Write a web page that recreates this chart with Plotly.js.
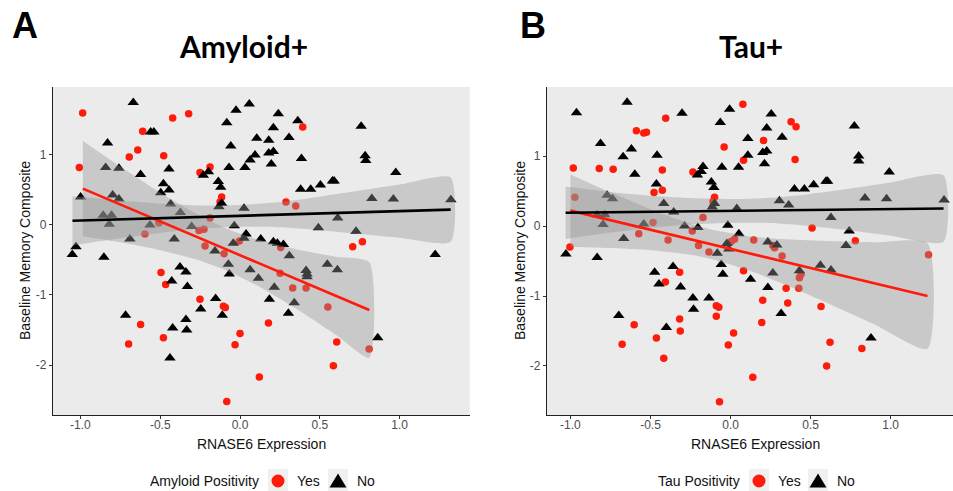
<!DOCTYPE html>
<html>
<head>
<meta charset="utf-8">
<script src="https://cdn.plot.ly/plotly-3.0.1.min.js"></script>
<style>html,body{margin:0;padding:0;background:#fff;}#chart{width:953px;height:491px;}</style>
</head>
<body>
<div id="chart"></div>
<script>
// ---------- Panel A: Amyloid+ ----------
const ampYesX = [-0.986,-1.007,-0.694,-0.641,-0.61,-0.478,-0.422,-0.322,-0.251,-0.188,-0.115,-0.125,-0.188,-0.508,-0.596,-0.257,-0.226,-0.219,-0.004,0.393,0.288,0.349,0.255,0.706,0.767,-0.1,-0.495,-0.466,-0.251,-0.104,-0.092,-0.623,-0.48,-0.698,0.0,-0.031,0.121,-0.083,0.178,0.251,0.33,0.414,0.55,0.606,0.585,0.809];
const ampYesY = [1.60,0.82,0.97,1.07,1.34,0.99,1.53,1.59,0.75,0.83,0.40,0.33,0.10,0.03,-0.13,-0.08,-0.06,-0.30,-0.23,1.40,0.33,0.27,-0.32,-0.31,-0.24,-0.41,-0.68,-0.85,-1.06,-1.16,-1.18,-1.42,-1.61,-1.70,-1.55,-1.71,-2.17,-2.52,-1.40,-0.69,-0.90,-0.90,-1.17,-1.67,-2.01,-1.77];
const ampNoX = [-0.669,-0.56,-0.54,-0.83,-0.842,-0.759,-0.623,-0.445,-0.48,-0.445,-0.497,-0.435,-0.374,-0.303,-0.412,-0.564,-0.69,-0.805,-0.857,-0.819,-0.798,-0.759,-0.999,-1.028,-0.23,-0.198,-0.136,-0.121,-0.115,-0.132,-0.069,0.031,-0.058,-0.083,-0.025,0.058,0.063,0.094,0.105,0.18,0.18,0.025,-0.036,-0.042,0.038,0.025,0.13,0.24,0.362,0.209,0.759,0.307,0.209,0.385,0.784,0.788,0.196,0.976,0.38,0.443,0.504,0.579,0.59,0.826,0.961,1.321,0.612,0.491,0.727,0.209,0.234,0.272,-1.051,-0.853,-0.376,-0.339,-0.428,-0.33,-0.153,-0.246,-0.111,-0.717,-0.339,-0.422,-0.334,-0.439,-0.157,-0.073,-0.067,0.063,0.115,0.184,0.309,0.215,0.303,0.34,0.414,0.42,0.42,0.547,0.61,0.863,1.223];
const ampNoY = [1.75,1.33,1.33,1.17,0.82,0.81,0.72,0.80,0.59,0.50,0.46,0.30,0.18,-0.02,-0.20,0.0,-0.20,0.14,0.14,0.01,0.43,0.37,0.40,-0.31,0.71,0.76,0.62,0.54,0.31,0.26,0.82,0.82,1.13,1.46,1.64,1.73,0.93,1.0,1.24,1.21,1.03,0.24,-0.01,-0.26,-0.13,-0.19,-0.20,1.59,1.49,1.39,1.41,1.25,1.05,0.95,0.99,0.92,0.87,0.75,0.51,0.51,0.57,0.63,0.63,0.38,0.37,0.36,0.10,-0.04,-0.09,-0.24,-0.26,-0.28,-0.42,-0.46,-0.60,-0.67,-0.80,-0.88,-1.05,-1.20,-1.29,-1.29,-1.35,-1.47,-1.50,-1.90,-0.37,-0.56,-0.70,-0.64,-0.76,-1.06,-0.44,-0.89,-1.26,-1.11,-0.65,-0.70,-0.74,-0.56,-0.64,-1.61,-0.42];
// fitted lines and 95% bands
const ampYesFitX = [-0.985,-0.75,-0.5,-0.25,-0.09,0.1,0.35,0.6,0.81];
const ampYesFit  = [0.52,0.293,0.051,-0.19,-0.345,-0.528,-0.77,-1.011,-1.214];
const ampYesUp   = [1.20,0.834,0.461,0.129,-0.045,-0.201,-0.346,-0.453,-0.531];
const ampYesLo   = [-0.16,-0.248,-0.359,-0.509,-0.645,-0.855,-1.194,-1.569,-1.897];
const ampNoFitX  = [-1.05,-0.75,-0.5,-0.25,0,0.25,0.5,0.75,1.0,1.32];
const ampNoFit   = [0.06,0.08,0.097,0.114,0.131,0.148,0.165,0.181,0.198,0.22];
const ampNoUp    = [0.41,0.35,0.307,0.279,0.286,0.328,0.405,0.491,0.578,0.68];
const ampNoLo    = [-0.29,-0.19,-0.113,-0.051,-0.024,-0.032,-0.075,-0.129,-0.182,-0.24];

// ---------- Panel B: Tau+ ----------
const tauYesX = [-0.982,-0.82,-0.733,-0.588,-0.542,-0.525,-0.405,-0.426,-0.426,-0.478,-0.235,-0.1,-0.04,0.077,0.081,-0.972,-1.003,-0.573,-0.484,-0.39,-0.239,-0.172,-0.2,-0.11,0.025,0.004,0.378,0.409,0.206,0.403,0.509,0.779,0.145,0.264,0.275,-0.135,-0.318,-0.407,-0.089,-0.073,-0.089,-0.318,-0.314,-0.602,-0.463,-0.677,-0.417,0.019,-0.014,-0.069,0.081,0.322,0.44,0.43,0.426,0.347,0.201,0.357,0.565,0.195,0.621,0.6,0.82,0.139,1.236];
const tauYesY = [0.83,0.82,0.81,1.36,1.33,1.34,1.54,0.80,0.51,0.48,0.77,0.41,1.13,1.74,0.94,0.41,-0.30,-0.11,0.05,-0.20,-0.07,0.12,-0.28,0.35,-0.19,-0.22,1.49,1.42,1.22,0.95,-0.03,-0.21,-0.20,-0.28,-0.31,-0.37,-0.66,-0.80,-1.14,-1.16,-1.29,-1.33,-1.50,-1.41,-1.60,-1.69,-1.89,-1.53,-1.70,-2.51,-0.64,-0.43,-0.69,-0.74,-0.89,-0.89,-1.06,-1.10,-1.15,-1.38,-1.66,-2.0,-1.75,-2.16,-0.41];
const tauNoX = [-0.962,-0.646,-0.303,-0.006,-0.064,-0.812,-0.619,-0.671,-0.459,-0.598,-0.463,-0.172,-0.183,-0.207,-0.054,0.05,0.108,0.108,-0.12,-0.104,-0.1,-0.114,-0.417,-0.355,-0.771,-0.737,-0.833,-0.785,-0.796,-0.542,-0.667,-0.287,-0.204,-0.017,0.039,-0.023,0.052,0.254,0.226,0.773,0.322,0.201,0.226,0.212,0.80,0.80,0.991,0.399,0.461,0.519,0.596,0.606,0.305,0.363,0.839,0.974,1.333,0.627,0.741,0.233,0.289,0.721,-1.028,-0.833,-0.474,-0.359,-0.447,-0.312,-0.235,-0.135,-0.231,-0.698,-0.401,-0.083,-0.058,-0.048,-0.011,0.125,0.264,0.233,0.316,0.43,0.561,0.627,0.877];
const tauNoY = [1.62,1.77,1.61,1.67,1.48,1.18,1.10,0.99,1.01,0.74,0.60,0.85,0.78,0.73,0.84,0.84,1.25,1.01,0.63,0.55,0.32,0.27,0.32,0.20,0.44,0.39,0.16,0.16,0.02,0.03,-0.18,0.0,-0.02,0.01,0.25,-0.25,-0.11,1.60,1.40,1.43,1.27,1.05,1.07,0.89,1.0,0.93,0.77,0.53,0.53,0.59,0.64,0.64,0.36,0.30,0.40,0.39,0.37,0.12,-0.07,-0.23,-0.27,-0.28,-0.40,-0.45,-0.66,-0.58,-0.83,-0.87,-1.03,-1.03,-1.19,-1.28,-1.45,-0.39,-0.55,-0.69,-0.33,-0.76,-0.67,-0.88,-1.25,-0.64,-0.56,-0.63,-1.60];
const tauYesFitX = [-1.0,-0.75,-0.5,-0.25,-0.12,0.1,0.35,0.6,0.9,1.23];
const tauYesFit  = [0.22,0.083,-0.054,-0.19,-0.261,-0.382,-0.518,-0.655,-0.819,-1.0];
const tauYesUp   = [0.737,0.481,0.239,0.031,-0.051,-0.141,-0.19,-0.215,-0.232,-0.245];
const tauYesLo   = [-0.297,-0.315,-0.347,-0.411,-0.471,-0.623,-0.846,-1.095,-1.406,-1.755];
const tauNoFitX  = [-1.03,-0.75,-0.5,-0.25,0,0.25,0.5,0.75,1.0,1.33];
const tauNoFit   = [0.19,0.197,0.203,0.21,0.216,0.223,0.229,0.235,0.242,0.25];
const tauNoUp    = [0.565,0.487,0.433,0.40,0.386,0.403,0.459,0.535,0.622,0.725];
const tauNoLo    = [-0.185,-0.093,-0.027,0.02,0.046,0.043,-0.001,-0.065,-0.138,-0.225];

const tickVals = [-1,-0.5,0,0.5,1];
const tickText = ['-1.0','-0.5','0.0','0.5','1.0'];
const yTickVals = [-2,-1,0,1];
const yTickText = ['-2','-1','0','1'];
const legendTitles = ['Amyloid Positivity','Tau Positivity'];
const legendLabels = ['Yes','No'];

const RED = '#FF1A0A';
const BAND = 'rgba(150,150,150,0.4)';

function pts(x, y, sym, color, xa, ya) {
  return {type:'scatter', mode:'markers', x:x, y:y, xaxis:xa, yaxis:ya, showlegend:false,
    marker:{symbol:sym, color:color, size: sym==='circle'?7.5:10, line:{width:0}}, hoverinfo:'skip'};
}
function band(fx, up, lo, xa, ya) {
  return {type:'scatter', mode:'lines', x: fx.concat(fx.slice().reverse()),
    y: up.concat(lo.slice().reverse()), xaxis:xa, yaxis:ya, fill:'toself', fillcolor:BAND,
    line:{width:0, shape:'spline', smoothing:0.6}, showlegend:false, hoverinfo:'skip'};
}
function fit(fx, fy, color, xa, ya) {
  return {type:'scatter', mode:'lines', x:fx, y:fy, xaxis:xa, yaxis:ya,
    line:{color:color, width:2.6}, showlegend:false, hoverinfo:'skip'};
}

const data = [
  pts(ampYesX, ampYesY, 'circle', RED, 'x', 'y'),
  pts(ampNoX, ampNoY, 'triangle-up', '#000', 'x', 'y'),
  band(ampYesFitX, ampYesUp, ampYesLo, 'x', 'y'),
  band(ampNoFitX, ampNoUp, ampNoLo, 'x', 'y'),
  fit(ampYesFitX, ampYesFit, RED, 'x', 'y'),
  fit(ampNoFitX, ampNoFit, '#000', 'x', 'y'),
  pts(tauYesX, tauYesY, 'circle', RED, 'x2', 'y2'),
  pts(tauNoX, tauNoY, 'triangle-up', '#000', 'x2', 'y2'),
  band(tauYesFitX, tauYesUp, tauYesLo, 'x2', 'y2'),
  band(tauNoFitX, tauNoUp, tauNoLo, 'x2', 'y2'),
  fit(tauYesFitX, tauYesFit, RED, 'x2', 'y2'),
  fit(tauNoFitX, tauNoFit, '#000', 'x2', 'y2')
];

const W = 953, H = 491;
const P = v => v / W, Q = v => 1 - v / H;
const AX_FONT = 'Liberation Sans, Arial, sans-serif';
const TITLE_FONT = 'Lato, Open Sans, sans-serif';
function xax(domain, range, anchor) {
  return {domain:domain, range:range, anchor:anchor, tickvals:tickVals, ticktext:tickText,
    showline:true, linecolor:'#222', linewidth:1.2, ticks:'outside', ticklen:3, tickcolor:'#333',
    ticklabelstandoff:-5,
    showgrid:false, zeroline:false, tickfont:{family:AX_FONT, size:12, color:'#4D4D4D'}};
}
function yax(domain, range, anchor) {
  return {domain:domain, range:range, anchor:anchor, tickvals:yTickVals, ticktext:yTickText,
    showline:true, linecolor:'#222', linewidth:1.2, ticks:'outside', ticklen:3, tickcolor:'#333',
    showgrid:false, zeroline:false, tickfont:{family:AX_FONT, size:12, color:'#4D4D4D'}};
}
function ann(text, x, y, size, family, extra) {
  return Object.assign({text:text, x:P(x), y:Q(y), xref:'paper', yref:'paper', showarrow:false,
    xanchor:'center', yanchor:'middle', font:{family:family, size:size, color:'#000'}}, extra || {});
}

// manual legend (keys on light grey boxes, as in ggplot)
const legendSpec = [
  {title:legendTitles[0], tx:148, box1:268, dot:278, yes:295, box2:328, tri:338, no:355},
  {title:legendTitles[1], tx:656, box1:749, dot:759, yes:776, box2:808, tri:818, no:835}
];
const shapes = [];
const annotations = [
  ann('<b>A</b>', 24.5, 25, 36, AX_FONT),
  ann('<b>B</b>', 532.5, 25, 36, AX_FONT),
  ann('<b>Amyloid+</b>', 243.5, 46, 30, TITLE_FONT),
  ann('<b>Tau+</b>', 751, 46, 30, TITLE_FONT),
  ann('RNASE6 Expression', 261, 444, 14, AX_FONT, {font:{family:AX_FONT, size:14, color:'#111'}}),
  ann('RNASE6 Expression', 755, 444, 14, AX_FONT, {font:{family:AX_FONT, size:14, color:'#111'}}),
  ann('Baseline Memory Composite', 25, 251, 14, AX_FONT, {textangle:-90, font:{family:AX_FONT, size:14, color:'#111'}}),
  ann('Baseline Memory Composite', 520, 251, 14, AX_FONT, {textangle:-90, font:{family:AX_FONT, size:14, color:'#111'}})
];
const LY = 481;
legendSpec.forEach(s => {
  annotations.push(ann(s.title, s.tx, LY, 14, AX_FONT, {xanchor:'left', font:{family:AX_FONT, size:14, color:'#111'}}));
  annotations.push(ann(legendLabels[0], s.yes, LY, 14, AX_FONT, {xanchor:'left', font:{family:AX_FONT, size:14, color:'#111'}}));
  annotations.push(ann(legendLabels[1], s.no, LY, 14, AX_FONT, {xanchor:'left', font:{family:AX_FONT, size:14, color:'#111'}}));
  [s.box1, s.box2].forEach(b => shapes.push({type:'rect', xref:'paper', yref:'paper',
    x0:P(b), x1:P(b+20), y0:Q(491), y1:Q(469), fillcolor:'#F0F0F0', line:{width:0}, layer:'below'}));
  shapes.push({type:'circle', xref:'paper', yref:'paper', x0:P(s.dot-6.5), x1:P(s.dot+6.5),
    y0:Q(LY+6.5), y1:Q(LY-6.5), fillcolor:RED, line:{width:0}});
  shapes.push({type:'path', xref:'paper', yref:'paper',
    path:'M '+P(s.tri-8.5)+','+Q(LY+6.5)+' L '+P(s.tri+8.5)+','+Q(LY+6.5)+' L '+P(s.tri)+','+Q(LY-7.5)+' Z',
    fillcolor:'#000', line:{width:0}});
});

const yDom = [0.1548, 0.8228];
const layout = {
  width:W, height:H, margin:{l:0,r:0,t:0,b:0},
  paper_bgcolor:'#fff', plot_bgcolor:'#EBEBEB', showlegend:false,
  xaxis: xax([0.0556,0.493], [-1.172,1.44], 'y'),
  yaxis: yax(yDom, [-2.714,1.971], 'x'),
  xaxis2: xax([0.574,1.0], [-1.146,1.389], 'y2'),
  yaxis2: yax(yDom, [-2.70,1.986], 'x2'),
  annotations: annotations,
  shapes: shapes
};
Plotly.newPlot('chart', data, layout, {displayModeBar:false, staticPlot:true});
</script>
</body>
</html>
